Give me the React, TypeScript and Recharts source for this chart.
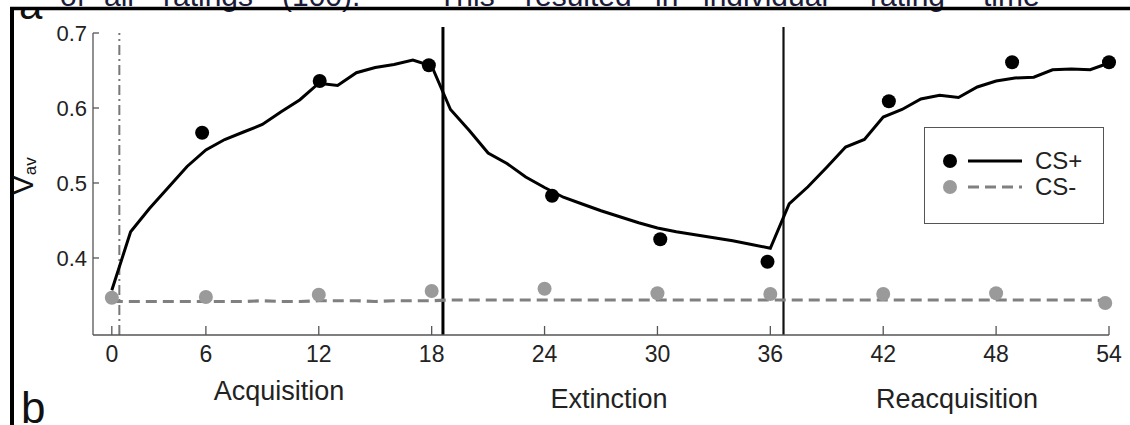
import React from 'react';
import { ComposedChart, Line, Scatter, XAxis, YAxis, ReferenceLine, Legend } from 'recharts';

// trial index on the x axis
const trials = [
  1, 2, 3, 4, 5, 6, 7, 8, 9, 10, 11, 12, 13, 14, 15, 16, 17, 18,
  19, 20, 21, 22, 23, 24, 25, 26, 27, 28, 29, 30, 31, 32, 33, 34, 35, 36,
  37, 38, 39, 40, 41, 42, 43, 44, 45, 46, 47, 48, 49, 50, 51, 52, 53, 54,
];

// model fit, CS+ (solid black)
const csPlusModel = [
  0.357, 0.435, 0.466, 0.494, 0.522, 0.544, 0.558, 0.568, 0.578, 0.595, 0.611, 0.633, 0.630, 0.647, 0.654, 0.658, 0.664, 0.656,
  0.598, 0.570, 0.540, 0.526, 0.508, 0.494, 0.481, 0.472, 0.463, 0.455, 0.447, 0.440, 0.435, 0.431, 0.427, 0.423, 0.418, 0.413,
  0.472, 0.495, 0.521, 0.548, 0.558, 0.588, 0.598, 0.612, 0.617, 0.614, 0.628, 0.636, 0.640, 0.641, 0.651, 0.652, 0.651, 0.660,
];

// model fit, CS- (dashed grey)
const csMinusModel = [
  0.342, 0.342, 0.342, 0.342, 0.342, 0.342, 0.342, 0.342, 0.343, 0.342, 0.342, 0.343, 0.343, 0.343, 0.342, 0.343, 0.343, 0.343,
  0.344, 0.344, 0.344, 0.344, 0.344, 0.344, 0.344, 0.344, 0.344, 0.344, 0.344, 0.344, 0.344, 0.344, 0.344, 0.344, 0.344, 0.344,
  0.344, 0.344, 0.344, 0.344, 0.344, 0.344, 0.344, 0.344, 0.344, 0.344, 0.344, 0.344, 0.344, 0.344, 0.344, 0.344, 0.344, 0.343,
];

// observed ratings
const csPlusTrials = [5.8, 12.05, 17.85, 24.4, 30.15, 35.85, 42.3, 48.85, 54];
const csPlusRatings = [0.567, 0.636, 0.657, 0.483, 0.425, 0.395, 0.609, 0.661, 0.661];
const csMinusTrials = [1, 6, 12, 18, 24, 30, 36, 42, 48, 53.8];
const csMinusRatings = [0.347, 0.348, 0.351, 0.356, 0.359, 0.353, 0.352, 0.352, 0.353, 0.340];

const xTicks = [1, 6, 12, 18, 24, 30, 36, 42, 48, 54];
const xTickLabels = ['0', '6', '12', '18', '24', '30', '36', '42', '48', '54'];
const yTicks = [0.4, 0.5, 0.6, 0.7];
const phaseBreaks = [18.6, 36.7];
const onsetTrial = 1.4;

const FONT = '"Liberation Sans", Arial, Helvetica, sans-serif';
const Y_MIN = 0.2973;

const plusLine = trials.map((t, i) => ({ x: t, v: csPlusModel[i] }));
const minusLine = trials.map((t, i) => ({ x: t, v: csMinusModel[i] }));
const plusDots = csPlusTrials.map((t, i) => ({ x: t, v: csPlusRatings[i] }));
const minusDots = csMinusTrials.map((t, i) => ({ x: t, v: csMinusRatings[i] }));

const XTick = (props: any) => {
  const { x, y, payload } = props;
  const label = xTickLabels[xTicks.indexOf(payload.value)];
  return (
    <g>
      <line x1={x} y1={y} x2={x} y2={y - 9} stroke="#555" strokeWidth={1.3} />
      <text x={x} y={y + 27} textAnchor="middle" fontSize={23} fill="#222" fontFamily={FONT}>
        {label}
      </text>
    </g>
  );
};

const YTick = (props: any) => {
  const { x, y, payload } = props;
  return (
    <g>
      <line x1={x} y1={y} x2={x + 6} y2={y} stroke="#555" strokeWidth={1.3} />
      <text x={x - 6} y={y + 8} textAnchor="end" fontSize={22} fill="#222" fontFamily={FONT}>
        {payload.value.toFixed(1)}
      </text>
    </g>
  );
};

const dot = (color: string) => (props: any) => (
  <circle cx={props.cx} cy={props.cy} r={7} fill={color} />
);

const LegendBox = () => (
  <div style={{ width: 180, height: 97, border: '1.3px solid #555', background: '#fff', boxSizing: 'border-box' }}>
    <svg width={178} height={95}>
      <circle cx={25} cy={33} r={7} fill="#000" />
      <line x1={43} y1={33} x2={97} y2={33} stroke="#000" strokeWidth={3} />
      <text x={110} y={41} fontSize={24} fill="#222" fontFamily={FONT}>CS+</text>
      <circle cx={25} cy={59} r={7} fill="#9a9a9a" />
      <line x1={43} y1={59} x2={97} y2={59} stroke="#808080" strokeWidth={3} strokeDasharray="11 6" />
      <text x={110} y={67} fontSize={24} fill="#222" fontFamily={FONT}>CS-</text>
    </svg>
  </div>
);

const topWords: [string, number][] = [
  ['of', 60], ['all', 104], ['ratings', 163], ['(100).', 282], ['This', 438], ['resulted', 525],
  ['in', 655], ['individual', 703], ['rating', 870], ['time', 983],
];

export default function App() {
  return (
    <div style={{ position: 'absolute', left: 0, top: 0, width: 1130, height: 425, background: '#fff', overflow: 'hidden' }}>
      <ComposedChart
        width={1130}
        height={425}
        margin={{ top: 33, right: 21, bottom: 60, left: 33 }}
      >
        <XAxis
          type="number"
          dataKey="x"
          domain={[0, 54]}
          ticks={xTicks}
          tick={<XTick />}
          tickSize={0}
          tickMargin={0}
          tickLine={false}
          height={30}
          stroke="#555"
          strokeWidth={1.3}
        />
        <YAxis
          type="number"
          domain={[Y_MIN, 0.7]}
          ticks={yTicks}
          tick={<YTick />}
          tickSize={0}
          tickMargin={0}
          tickLine={false}
          width={60}
          stroke="#555"
          strokeWidth={1.3}
        />
        <ReferenceLine
          segment={[{ x: onsetTrial, y: Y_MIN }, { x: onsetTrial, y: 0.7 }]}
          stroke="#777"
          strokeWidth={2}
          strokeDasharray="10 4 2 4"
          ifOverflow="visible"
        />
        <ReferenceLine
          segment={[{ x: phaseBreaks[0], y: Y_MIN }, { x: phaseBreaks[0], y: 0.708 }]}
          stroke="#000"
          strokeWidth={3}
          ifOverflow="visible"
        />
        <ReferenceLine
          segment={[{ x: phaseBreaks[1], y: Y_MIN }, { x: phaseBreaks[1], y: 0.708 }]}
          stroke="#111"
          strokeWidth={2.2}
          ifOverflow="visible"
        />
        <Scatter data={minusDots} dataKey="v" shape={dot('#9a9a9a')} isAnimationActive={false} />
        <Scatter data={plusDots} dataKey="v" shape={dot('#000')} isAnimationActive={false} />
        <Line
          data={minusLine}
          dataKey="v"
          type="linear"
          stroke="#808080"
          strokeWidth={3.2}
          strokeDasharray="11 6"
          dot={false}
          activeDot={false}
          isAnimationActive={false}
        />
        <Line
          data={plusLine}
          dataKey="v"
          type="linear"
          stroke="#000"
          strokeWidth={3}
          dot={false}
          activeDot={false}
          isAnimationActive={false}
        />
        <Legend
          layout="vertical"
          align="center"
          verticalAlign="middle"
          content={<LegendBox />}
          wrapperStyle={{ left: 924, top: 127, width: 180, height: 97 }}
        />
      </ComposedChart>
      <svg
        width={1130}
        height={425}
        style={{ position: 'absolute', left: 0, top: 0, pointerEvents: 'none' }}
      >
        {/* panel letter "a", top cut off by the frame */}
        <text x={19} y={19} fontSize={42} fill="#111" fontFamily={FONT}>a</text>
        <rect x={0} y={0} width={60} height={9} fill="#fff" />
        {topWords.map(([w, x]) => (
          <text key={w + x} x={x} y={6} fontSize={30} fill="#1c1c3a" fontFamily={FONT}>{w}</text>
        ))}
        <line x1={10} y1={8.5} x2={1130} y2={8.5} stroke="#000" strokeWidth={3.5} />
        <line x1={12} y1={7} x2={12} y2={425} stroke="#000" strokeWidth={4} />
        <text x={21} y={423} fontSize={44} fill="#111" fontFamily={FONT}>b</text>
        {/* axis title V_av */}
        <text transform="rotate(-90 33 176)" x={33} y={176} textAnchor="middle" fill="#111" fontFamily={FONT}>
          <tspan fontSize={29}>V</tspan>
          <tspan fontSize={17} dy={3}>av</tspan>
        </text>
        <text x={279} y={400} textAnchor="middle" fontSize={27} fill="#222" fontFamily={FONT}>Acquisition</text>
        <text x={609} y={408} textAnchor="middle" fontSize={27} fill="#222" fontFamily={FONT}>Extinction</text>
        <text x={957} y={408} textAnchor="middle" fontSize={27} fill="#222" fontFamily={FONT}>Reacquisition</text>
      </svg>
    </div>
  );
}
